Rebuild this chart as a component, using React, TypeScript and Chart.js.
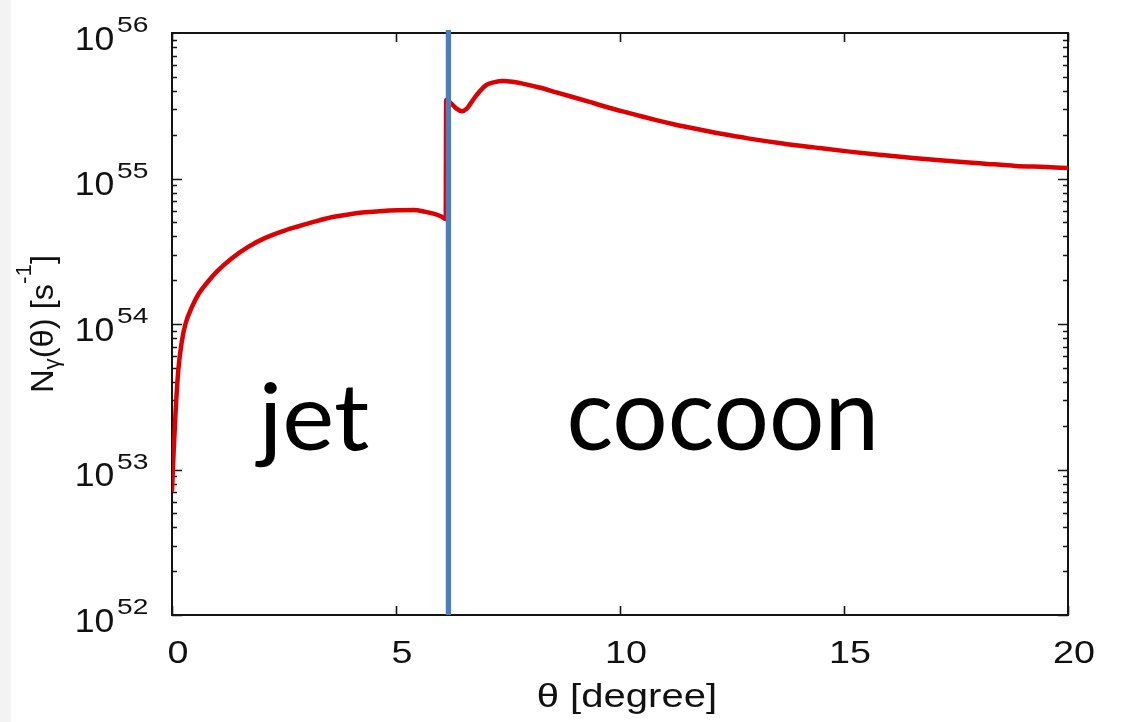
import React, { useEffect, useRef } from 'react';
import { Chart, registerables } from 'chart.js';

Chart.register(...registerables);

// ---- data ----
const THETA_DEG = [
  0, 0.04, 0.08, 0.14, 0.22, 0.3, 0.45, 0.6, 0.8, 1.0,
  1.33, 1.7, 2.07, 2.5, 2.81, 3.2, 3.56, 4.0, 4.3, 4.7,
  5.04, 5.4, 5.64, 5.86, 6.0, 6.11, 6.12, 6.25, 6.35, 6.47,
  6.58, 6.72, 6.87, 7.02, 7.2, 7.39, 7.6, 7.83, 8.2, 8.58,
  9.0, 9.32, 9.7, 10.06, 10.45, 10.81, 11.2, 11.55, 12.29, 12.89,
  13.63, 14.37, 15.12, 15.86, 16.6, 17.35, 18.09, 18.83, 19.5, 20.0,
];
const N_GAMMA = [
  7.2e52, 1.4e53, 2.5e53, 4.8e53, 7.6e53, 1.0e54, 1.32e54, 1.62e54, 1.95e54, 2.29e54,
  2.82e54, 3.39e54, 3.89e54, 4.37e54, 4.68e54, 5.07e54, 5.41e54, 5.71e54, 5.86e54, 5.99e54,
  6.05e54, 6.07e54, 5.92e54, 5.71e54, 5.5e54, 5.27e54, 3.47e55, 3.24e55, 3.02e55, 2.9e55,
  3.02e55, 3.47e55, 3.98e55, 4.4e55, 4.6e55, 4.68e55, 4.62e55, 4.49e55, 4.22e55, 3.91e55,
  3.59e55, 3.36e55, 3.1e55, 2.89e55, 2.69e55, 2.52e55, 2.36e55, 2.24e55, 2.02e55, 1.88e55,
  1.74e55, 1.63e55, 1.53e55, 1.45e55, 1.38e55, 1.32e55, 1.27e55, 1.22e55, 1.2e55, 1.18e55,
];
const BOUNDARY_THETA = 6.17;
const BOUNDARY_Y = [1.05e56, 1e52];
const X_TICKS = [0, 5, 10, 15, 20];
const X_TICK_LABELS = ['0', '5', '10', '15', '20'];
const Y_TICK_EXPONENTS = [52, 53, 54, 55, 56];
const X_TITLE = 'θ [degree]';
const REGION_LABELS = ['jet', 'cocoon'];

const SANS = '"Liberation Sans", Arial, Helvetica, sans-serif';

function fitText(
  ctx: CanvasRenderingContext2D,
  text: string,
  font: string,
  inkL: number,
  inkR: number,
  base: number,
  inkTop: number
) {
  ctx.save();
  ctx.font = font;
  ctx.textAlign = 'left';
  ctx.textBaseline = 'alphabetic';
  const m = ctx.measureText(text);
  const w = m.actualBoundingBoxLeft + m.actualBoundingBoxRight;
  const a = m.actualBoundingBoxAscent;
  const sx = (inkR - inkL) / w;
  const sy = (base - inkTop) / a;
  ctx.translate(inkL, base);
  ctx.scale(sx, sy);
  ctx.fillText(text, m.actualBoundingBoxLeft, 0);
  ctx.restore();
}

const framePlugin = {
  id: 'framePlugin',
  beforeDraw(chart: any) {
    const ctx = chart.ctx as CanvasRenderingContext2D;
    ctx.save();
    ctx.fillStyle = '#ffffff';
    ctx.fillRect(0, 0, chart.width, chart.height);
    ctx.fillStyle = '#f3f3f3';
    ctx.fillRect(0, 0, 11, chart.height);
    ctx.restore();
  },
  beforeDatasetsDraw(chart: any) {
    const ctx = chart.ctx as CanvasRenderingContext2D;
    const { left, right, top, bottom } = chart.chartArea;
    const xs = chart.scales.x;
    const ys = chart.scales.y;
    ctx.save();
    ctx.strokeStyle = '#141414';
    ctx.lineWidth = 1.6;
    ctx.beginPath();
    for (let e = Y_TICK_EXPONENTS[0]; e < Y_TICK_EXPONENTS[Y_TICK_EXPONENTS.length - 1]; e++) {
      for (let m = 1; m <= 9; m++) {
        const y = Math.round(ys.getPixelForValue(m * Math.pow(10, e))) + 0.5;
        const len = m === 1 ? 10 : 5;
        ctx.moveTo(left, y);
        ctx.lineTo(left + len, y);
        ctx.moveTo(right, y);
        ctx.lineTo(right - len, y);
      }
    }
    for (const t of X_TICKS) {
      const x = Math.round(xs.getPixelForValue(t)) + 0.5;
      ctx.moveTo(x, bottom);
      ctx.lineTo(x, bottom - 9);
      ctx.moveTo(x, top);
      ctx.lineTo(x, top + 9);
    }
    ctx.stroke();
    ctx.lineWidth = 2;
    ctx.strokeRect(left, top, right - left, bottom - top);
    ctx.restore();
  },
  afterDraw(chart: any) {
    const ctx = chart.ctx as CanvasRenderingContext2D;
    const xs = chart.scales.x;
    const ys = chart.scales.y;
    const { top, bottom } = chart.chartArea;
    ctx.save();
    ctx.fillStyle = '#111111';

    // y tick labels 10^n
    for (const e of Y_TICK_EXPONENTS) {
      const y = ys.getPixelForValue(Math.pow(10, e));
      fitText(ctx, '10', `32px ${SANS}`, 77, 113.5, y + 16.5, y + 16.5 - 23);
      fitText(ctx, String(e), `22px ${SANS}`, 117, 148, y - 1, y - 1 - 15.5);
    }

    // x tick labels
    X_TICKS.forEach((t, i) => {
      const x = xs.getPixelForValue(t) + 6;
      ctx.save();
      ctx.font = `32px ${SANS}`;
      ctx.textAlign = 'center';
      ctx.textBaseline = 'alphabetic';
      ctx.translate(x, bottom + 48.3);
      ctx.scale(1.18, 1);
      ctx.fillText(X_TICK_LABELS[i], 0, 0);
      ctx.restore();
    });

    // x title
    fitText(ctx, X_TITLE, `31px ${SANS}`, 538, 715, 707, 683);

    // y title: N_γ(θ) [s^-1], rotated
    const F = 32;
    const pieces = [
      { t: 'N', size: F, dy: 0 },
      { t: 'γ', size: 22, dy: 6 },
      { t: '(θ) [s', size: F, dy: 0 },
      { t: '-1', size: 22, dy: -22 },
      { t: ']', size: F, dy: 0 },
    ];
    let total = 0;
    const widths: number[] = [];
    for (const p of pieces) {
      ctx.font = `${p.size}px ${SANS}`;
      const w = ctx.measureText(p.t).width;
      widths.push(w);
      total += w;
    }
    const cy = (top + bottom) / 2;
    const targetLen = 138;
    const k = targetLen / total;
    ctx.save();
    ctx.translate(53, cy + targetLen / 2);
    ctx.rotate(-Math.PI / 2);
    ctx.scale(k, 1);
    ctx.textAlign = 'left';
    ctx.textBaseline = 'alphabetic';
    let px = 0;
    pieces.forEach((p, i) => {
      ctx.font = `${p.size}px ${SANS}`;
      ctx.fillText(p.t, px, p.dy);
      px += widths[i];
    });
    ctx.restore();

    // region labels
    ctx.fillStyle = '#000000';
    fitText(ctx, REGION_LABELS[0], `100px Lato, "Open Sans", sans-serif`, 254.7, 368.4, 450, 381.7);
    fitText(ctx, REGION_LABELS[1], `100px Lato, "Open Sans", sans-serif`, 570.4, 873.4, 450, 396.7);
    ctx.restore();
  },
};

export default function App() {
  const ref = useRef<HTMLCanvasElement>(null);
  useEffect(() => {
    document.body.style.margin = '0';
    const canvas = ref.current;
    if (!canvas) return;
    const chart = new Chart(canvas, {
      type: 'line',
      data: {
        datasets: [
          {
            label: 'boundary',
            data: BOUNDARY_Y.map((y) => ({ x: BOUNDARY_THETA, y })),
            borderColor: '#4a7ebf',
            borderWidth: 5.3,
            pointRadius: 0,
            tension: 0,
            clip: false as any,
          },
          {
            label: 'N_gamma',
            data: THETA_DEG.map((x, i) => ({ x, y: N_GAMMA[i] })),
            borderColor: '#dd0000',
            borderWidth: 4.5,
            pointRadius: 0,
            cubicInterpolationMode: 'monotone',
            borderJoinStyle: 'round',
            borderCapStyle: 'round',
          },
        ],
      },
      options: {
        responsive: false,
        animation: false,
        devicePixelRatio: 1,
        layout: { padding: { left: 172, top: 33, right: 53, bottom: 107 } },
        scales: {
          x: { type: 'linear', min: 0, max: 20, display: false },
          y: { type: 'logarithmic', min: 1e52, max: 1e56, display: false },
        },
        plugins: {
          legend: { display: false },
          tooltip: { enabled: false },
        },
      } as any,
      plugins: [framePlugin],
    });
    return () => chart.destroy();
  }, []);
  return (
    <div style={{ position: 'fixed', left: 0, top: 0, width: 1121, height: 722, background: '#fff' }}>
      <canvas ref={ref} width={1121} height={722} style={{ display: 'block', width: 1121, height: 722 }} />
    </div>
  );
}
